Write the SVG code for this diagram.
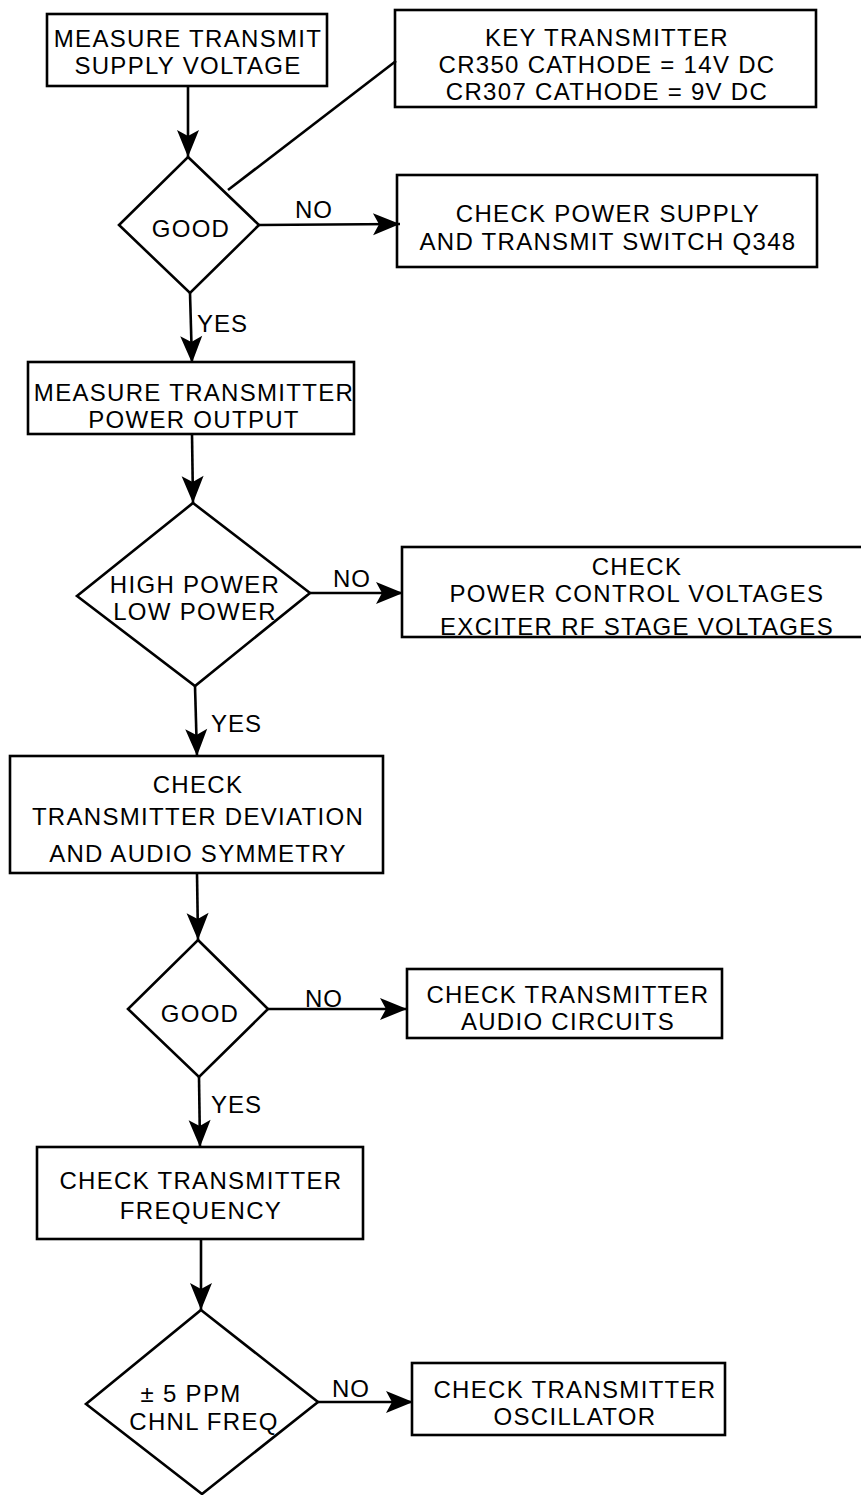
<svg xmlns="http://www.w3.org/2000/svg" width="861" height="1495" viewBox="0 0 861 1495">
<style>
.s{fill:none;stroke:#000;stroke-width:2.6;}
.t{font-family:"Liberation Sans",Arial,Helvetica,sans-serif;font-size:24px;letter-spacing:1.3px;fill:#000;text-anchor:middle;}
.l{font-family:"Liberation Sans",Arial,Helvetica,sans-serif;font-size:24px;letter-spacing:1px;fill:#000;}
</style>
<defs>
<marker id="ah" viewBox="-28 -12 30 24" markerWidth="30" markerHeight="24" refX="0" refY="0" orient="auto" markerUnits="userSpaceOnUse">
<path d="M0,0 L-27,-11 L-21,0 L-27,11 Z" fill="#000"/>
</marker>
</defs>
<rect width="861" height="1495" fill="#fff"/>
<g id="connectors">
<line class="s" x1="188" y1="86" x2="188" y2="157" marker-end="url(#ah)"/>
<line class="s" x1="228" y1="190" x2="396" y2="61"/>
<line class="s" x1="259" y1="225" x2="400" y2="224" marker-end="url(#ah)"/>
<text class="l" x="295" y="218">NO</text>
<line class="s" x1="190" y1="293" x2="192" y2="363" marker-end="url(#ah)"/>
<text class="l" x="197" y="332">YES</text>
<line class="s" x1="192" y1="434" x2="193" y2="503" marker-end="url(#ah)"/>
<line class="s" x1="310" y1="593" x2="403" y2="593" marker-end="url(#ah)"/>
<text class="l" x="333" y="587">NO</text>
<line class="s" x1="195" y1="686" x2="197" y2="756" marker-end="url(#ah)"/>
<text class="l" x="211" y="732">YES</text>
<line class="s" x1="197" y1="873" x2="198" y2="940" marker-end="url(#ah)"/>
<line class="s" x1="268" y1="1009" x2="407" y2="1009" marker-end="url(#ah)"/>
<text class="l" x="305" y="1007">NO</text>
<line class="s" x1="199" y1="1077" x2="200" y2="1147" marker-end="url(#ah)"/>
<text class="l" x="211" y="1113">YES</text>
<line class="s" x1="201" y1="1239" x2="201" y2="1310" marker-end="url(#ah)"/>
<line class="s" x1="318" y1="1402" x2="413" y2="1402" marker-end="url(#ah)"/>
<text class="l" x="332" y="1397">NO</text>
</g>
<g id="n1">
<rect class="s" x="47" y="14" width="280" height="72"/>
<text class="t" x="188" y="47">MEASURE TRANSMIT</text>
<text class="t" x="188" y="74">SUPPLY VOLTAGE</text>
</g>
<g id="n2">
<rect class="s" x="395" y="10" width="421" height="97"/>
<text class="t" x="607" y="46">KEY TRANSMITTER</text>
<text class="t" x="607" y="73">CR350 CATHODE = 14V DC</text>
<text class="t" x="607" y="100">CR307 CATHODE = 9V DC</text>
</g>
<g id="d1">
<polygon class="s" points="188,157 259,225 190,293 119,225"/>
<text class="t" x="191" y="237">GOOD</text>
</g>
<g id="n3">
<rect class="s" x="397" y="175" width="420" height="92"/>
<text class="t" x="608" y="222">CHECK POWER SUPPLY</text>
<text class="t" x="608" y="250">AND TRANSMIT SWITCH Q348</text>
</g>
<g id="n4">
<rect class="s" x="28" y="362" width="326" height="72"/>
<text class="t" x="194" y="401">MEASURE TRANSMITTER</text>
<text class="t" x="194" y="428">POWER OUTPUT</text>
</g>
<g id="d2">
<polygon class="s" points="193,503 310,593 195,686 77,596"/>
<text class="t" x="195" y="593">HIGH POWER</text>
<text class="t" x="195" y="620">LOW POWER</text>
</g>
<g id="n5">
<rect class="s" x="402" y="547" width="470" height="90"/>
<text class="t" x="637" y="575">CHECK</text>
<text class="t" x="637" y="602">POWER CONTROL VOLTAGES</text>
<text class="t" x="637" y="635">EXCITER RF STAGE VOLTAGES</text>
</g>
<g id="n6">
<rect class="s" x="10" y="756" width="373" height="117"/>
<text class="t" x="198" y="793">CHECK</text>
<text class="t" x="198" y="825">TRANSMITTER DEVIATION</text>
<text class="t" x="198" y="862">AND AUDIO SYMMETRY</text>
</g>
<g id="d3">
<polygon class="s" points="198,940 268,1009 199,1077 128,1009"/>
<text class="t" x="200" y="1022">GOOD</text>
</g>
<g id="n7">
<rect class="s" x="407" y="969" width="315" height="69"/>
<text class="t" x="568" y="1003">CHECK TRANSMITTER</text>
<text class="t" x="568" y="1030">AUDIO CIRCUITS</text>
</g>
<g id="n8">
<rect class="s" x="37" y="1147" width="326" height="92"/>
<text class="t" x="201" y="1189">CHECK TRANSMITTER</text>
<text class="t" x="201" y="1219">FREQUENCY</text>
</g>
<g id="d4">
<polygon class="s" points="201,1310 318,1402 202,1494 86,1404"/>
<text class="t" x="191" y="1402">± 5 PPM</text>
<text class="t" x="204" y="1430">CHNL FREQ</text>
</g>
<g id="n9">
<rect class="s" x="412" y="1363" width="313" height="72"/>
<text class="t" x="575" y="1398">CHECK TRANSMITTER</text>
<text class="t" x="575" y="1425">OSCILLATOR</text>
</g>
</svg>
